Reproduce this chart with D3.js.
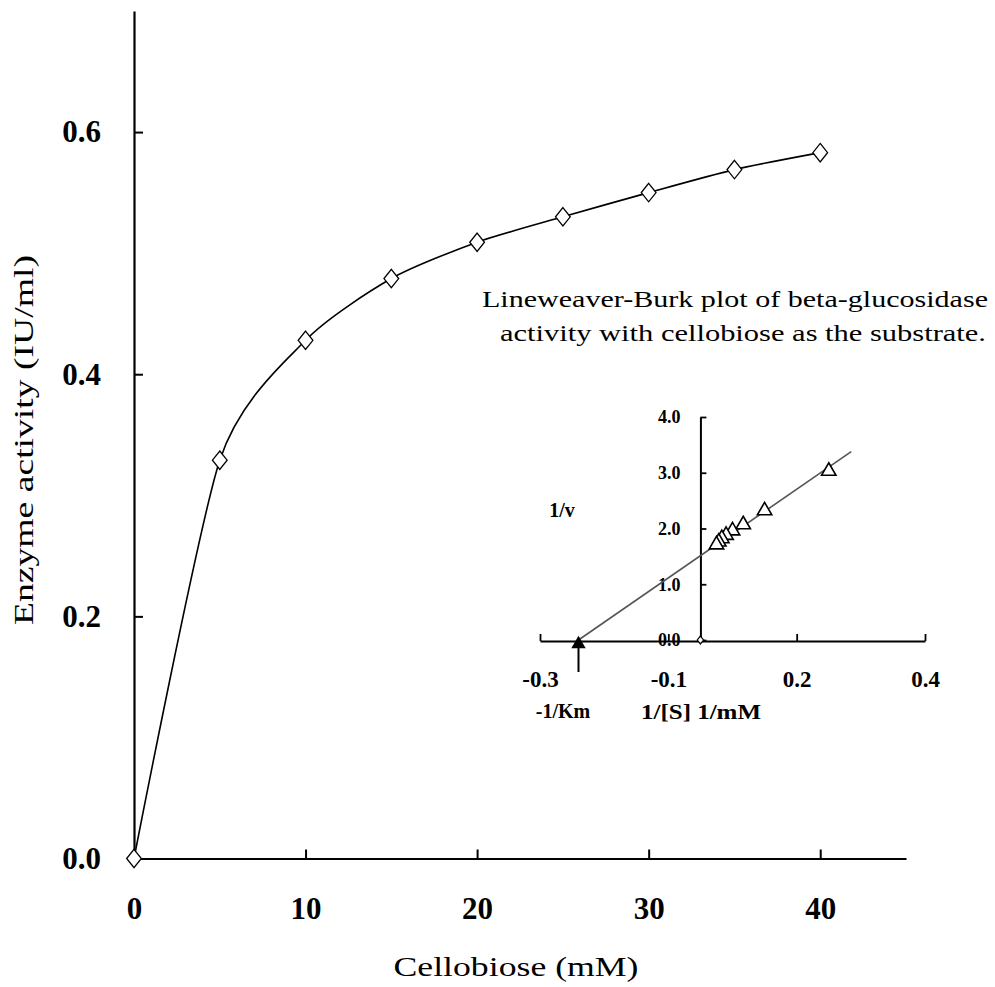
<!DOCTYPE html>
<html>
<head>
<meta charset="utf-8">
<script src="https://cdn.jsdelivr.net/npm/d3@7"></script>
<style>
  html, body { margin: 0; padding: 0; background: #fff; }
  svg { display: block; }
</style>
</head>
<body>
<svg id="chart" width="995" height="987"></svg>
<script>
// ---------- DATA ----------
const substrate = [0, 5, 10, 15, 20, 25, 30, 35, 40];          // Cellobiose (mM)
const activity  = [0, 0.329, 0.428, 0.479, 0.509, 0.530, 0.550, 0.569, 0.583]; // IU/ml
const mainXTicks = [0, 10, 20, 30, 40];
const mainYTicks = [0, 0.2, 0.4, 0.6];

// Lineweaver-Burk inset
const invS = [0.2, 0.1, 0.0667, 0.05, 0.04, 0.0333, 0.0286, 0.025];
const invV = [3.03, 2.32, 2.07, 1.96, 1.88, 1.82, 1.76, 1.71];
const fitX = [-0.19, 0.235];
const fitY = [0, 3.38];
const xIntercept = -0.19;
const insetXTicks = [-0.25, -0.05, 0.15, 0.35];
const insetXLabels = ["-0.3", "-0.1", "0.2", "0.4"];
const insetYTicks = [0, 1, 2, 3, 4];

const titleLines = ["Lineweaver-Burk plot of beta-glucosidase",
                    "activity with cellobiose as the substrate."];

// ---------- DRAW ----------
const svg = d3.select("#chart");
const SERIF = "'Liberation Serif', 'Times New Roman', serif";

const x = d3.scaleLinear().domain([0, 45]).range([134, 906]);
const y = d3.scaleLinear().domain([0, 0.7]).range([858.5, 11]);

// custom rhombus symbol (wider than d3.symbolDiamond)
const rhombus = {
  draw(ctx, size) {
    const h = Math.sqrt(size) * 0.62, w = h * 0.8;
    ctx.moveTo(0, -h); ctx.lineTo(w, 0); ctx.lineTo(0, h); ctx.lineTo(-w, 0); ctx.closePath();
  }
};

// main axes
const gy = svg.append("g").attr("transform", `translate(${x(0)},0)`)
  .call(d3.axisLeft(y).tickValues(mainYTicks).tickFormat(d3.format(".1f"))
        .tickSizeInner(-9).tickSizeOuter(0).tickPadding(33));
const gx = svg.append("g").attr("transform", `translate(0,${y(0)})`)
  .call(d3.axisBottom(x).tickValues(mainXTicks).tickFormat(d3.format("d"))
        .tickSizeInner(-9).tickSizeOuter(0).tickPadding(38));
[gx, gy].forEach(g => {
  g.select(".domain").attr("stroke", "#000").attr("stroke-width", 2.2);
  g.selectAll(".tick line").attr("stroke", "#000").attr("stroke-width", 2);
  g.selectAll(".tick text").attr("fill", "#000")
    .style("font-family", SERIF).style("font-weight", "bold").style("font-size", "31px");
});
gy.selectAll(".tick").filter(d => d === 0).select("line").remove();
gx.selectAll(".tick").filter(d => d === 0).select("line").remove();

// main curve
const pts = substrate.map((s, i) => [s, activity[i]]);
svg.append("path").datum(pts)
  .attr("fill", "none").attr("stroke", "#000").attr("stroke-width", 1.6)
  .attr("d", d3.line().x(d => x(d[0])).y(d => y(d[1])).curve(d3.curveCardinal.tension(0.3)));
svg.append("g").selectAll("path").data(pts).join("path")
  .attr("transform", d => `translate(${x(d[0])},${y(d[1])})`)
  .attr("d", d3.symbol(rhombus, 220))
  .attr("fill", "#fff").attr("stroke", "#000").attr("stroke-width", 1.3);

// axis titles
svg.append("text")
  .attr("transform", `translate(33,440) rotate(-90)`)
  .attr("text-anchor", "middle")
  .attr("textLength", 370).attr("lengthAdjust", "spacingAndGlyphs")
  .style("font-family", SERIF).style("font-size", "28px").attr("fill", "#000")
  .text("Enzyme activity (IU/ml)");
svg.append("text")
  .attr("x", 516).attr("y", 976).attr("text-anchor", "middle")
  .attr("textLength", 245).attr("lengthAdjust", "spacingAndGlyphs")
  .style("font-family", SERIF).style("font-size", "28px").attr("fill", "#000")
  .text("Cellobiose (mM)");

// inset title
svg.append("text").attr("x", 735).attr("y", 307).attr("text-anchor", "middle")
  .attr("textLength", 506).attr("lengthAdjust", "spacingAndGlyphs")
  .style("font-family", SERIF).style("font-size", "23px").attr("fill", "#000")
  .text(titleLines[0]);
svg.append("text").attr("x", 743).attr("y", 341).attr("text-anchor", "middle")
  .attr("textLength", 486).attr("lengthAdjust", "spacingAndGlyphs")
  .style("font-family", SERIF).style("font-size", "23px").attr("fill", "#000")
  .text(titleLines[1]);

// ---------- INSET ----------
const xi = d3.scaleLinear().domain([-0.25, 0.35]).range([540, 925]);
const yi = d3.scaleLinear().domain([0, 4]).range([640, 417]);

const giy = svg.append("g").attr("transform", `translate(${xi(0)},0)`)
  .call(d3.axisLeft(yi).tickValues(insetYTicks).tickFormat(d3.format(".1f"))
        .tickSizeInner(-6).tickSizeOuter(0).tickPadding(20));
const gix = svg.append("g").attr("transform", `translate(0,${yi(0) + 1})`)
  .call(d3.axisBottom(xi).tickValues(insetXTicks).tickFormat((d, i) => insetXLabels[i])
        .tickSizeInner(-7).tickSizeOuter(0).tickPadding(30));
[gix, giy].forEach(g => {
  g.select(".domain").attr("stroke", "#000").attr("stroke-width", 2);
  g.selectAll(".tick line").attr("stroke", "#000").attr("stroke-width", 1.8);
  g.selectAll(".tick text").attr("fill", "#000")
    .style("font-family", SERIF).style("font-weight", "bold");
});
giy.selectAll(".tick text").style("font-size", "18px");
gix.selectAll(".tick text").style("font-size", "23px");

// fitted line
svg.append("path").datum(fitX.map((v, i) => [v, fitY[i]]))
  .attr("fill", "none").attr("stroke", "#555").attr("stroke-width", 1.6)
  .attr("d", d3.line().x(d => xi(d[0])).y(d => yi(d[1])));

// triangles
const tri = invS.map((s, i) => [s, invV[i]]);
svg.append("g").selectAll("path").data(tri).join("path")
  .attr("transform", d => `translate(${xi(d[0])},${yi(d[1])})`)
  .attr("d", d3.symbol(d3.symbolTriangle, 90))
  .attr("fill", "#fff").attr("stroke", "#000").attr("stroke-width", 1.6);

// origin diamond
svg.append("path")
  .attr("transform", `translate(${xi(0)},${yi(0)})`)
  .attr("d", d3.symbol(rhombus, 40))
  .attr("fill", "#fff").attr("stroke", "#000").attr("stroke-width", 1.2);

// -1/Km arrow
svg.append("path")
  .attr("transform", `translate(${xi(xIntercept)},${yi(0) + 4})`)
  .attr("d", d3.symbol(d3.symbolTriangle, 90))
  .attr("fill", "#000");
svg.append("line")
  .attr("x1", xi(xIntercept)).attr("x2", xi(xIntercept))
  .attr("y1", yi(0) + 8).attr("y2", yi(0) + 32)
  .attr("stroke", "#000").attr("stroke-width", 2);

// inset labels
svg.append("text").attr("x", 562).attr("y", 517).attr("text-anchor", "middle")
  .style("font-family", SERIF).style("font-weight", "bold").style("font-size", "20px")
  .text("1/v");
svg.append("text").attr("x", 563).attr("y", 718).attr("text-anchor", "middle")
  .style("font-family", SERIF).style("font-weight", "bold").style("font-size", "20px")
  .text("-1/Km");
svg.append("text").attr("x", 701).attr("y", 719).attr("text-anchor", "middle")
  .attr("textLength", 120).attr("lengthAdjust", "spacingAndGlyphs")
  .style("font-family", SERIF).style("font-weight", "bold").style("font-size", "20px")
  .text("1/[S] 1/mM");
</script>
</body>
</html>
